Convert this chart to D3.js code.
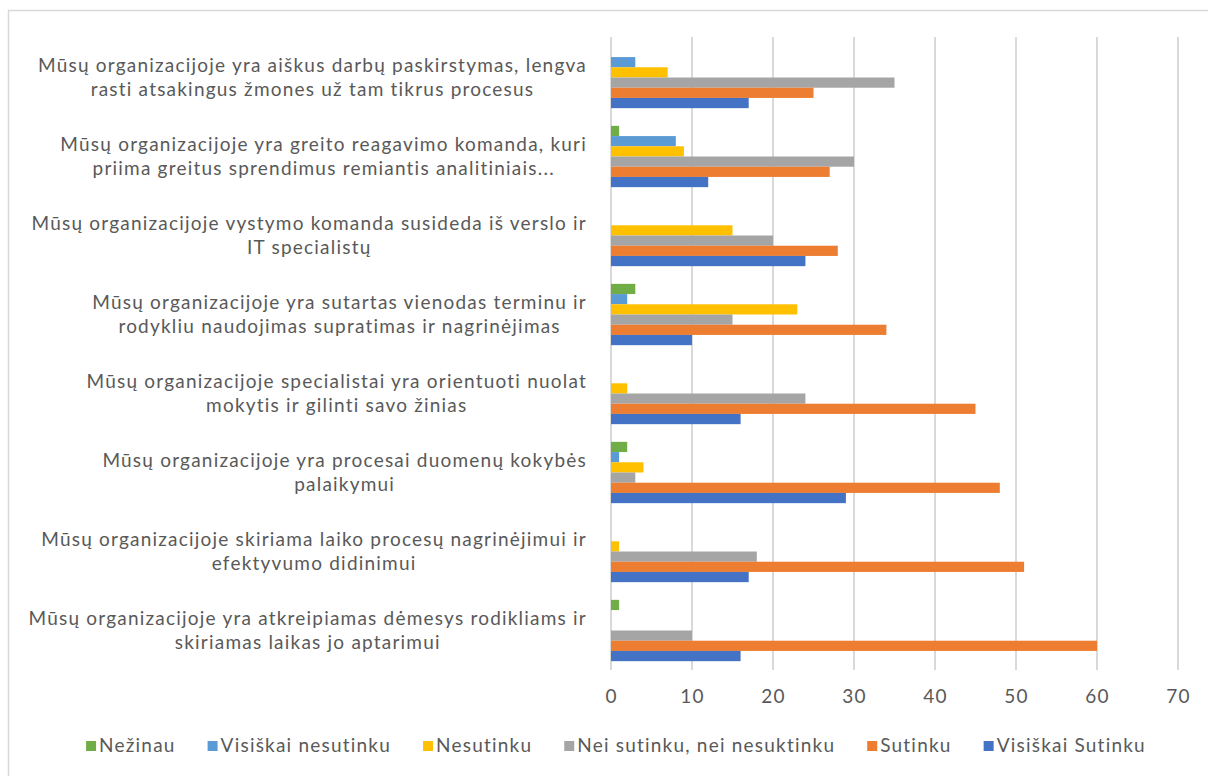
<!DOCTYPE html>
<html>
<head>
<meta charset="utf-8">
<script src="https://cdn.jsdelivr.net/npm/d3@7"></script>
<style>
  html, body { margin: 0; padding: 0; background: #fff; }
  svg { display: block; }
  text { font-family: Lato, "Open Sans", sans-serif; fill: #595959; }
</style>
</head>
<body>
<svg id="chart" width="1208" height="776"></svg>
<script>
const categories = [
  ["Mūsų organizacijoje yra aiškus darbų paskirstymas, lengva", "rasti atsakingus žmones už tam tikrus procesus"],
  ["Mūsų organizacijoje yra greito reagavimo komanda, kuri", "priima greitus sprendimus remiantis analitiniais..."],
  ["Mūsų organizacijoje vystymo komanda susideda iš verslo ir", "IT specialistų"],
  ["Mūsų organizacijoje yra sutartas vienodas terminu ir", "rodykliu naudojimas supratimas ir nagrinėjimas"],
  ["Mūsų organizacijoje specialistai yra orientuoti nuolat", "mokytis ir gilinti savo žinias"],
  ["Mūsų organizacijoje yra procesai duomenų kokybės", "palaikymui"],
  ["Mūsų organizacijoje skiriama laiko procesų nagrinėjimui ir", "efektyvumo didinimui"],
  ["Mūsų organizacijoje yra atkreipiamas dėmesys rodikliams ir", "skiriamas laikas jo aptarimui"]
];
const seriesNames = ["Nežinau", "Visiškai nesutinku", "Nesutinku", "Nei sutinku, nei nesuktinku", "Sutinku", "Visiškai Sutinku"];
const seriesColors = ["#70AD47", "#5B9BD5", "#FFC000", "#A5A5A5", "#ED7D31", "#4472C4"];
const nezinau           = [0, 1, 0, 3, 0, 2, 0, 1];
const visiskaiNesutinku = [3, 8, 0, 2, 0, 1, 0, 0];
const nesutinku         = [7, 9, 15, 23, 2, 4, 1, 0];
const neiNei            = [35, 30, 20, 15, 24, 3, 18, 10];
const sutinku           = [25, 27, 28, 34, 45, 48, 51, 60];
const visiskaiSutinku   = [17, 12, 24, 10, 16, 29, 17, 16];
const seriesValues = [nezinau, visiskaiNesutinku, nesutinku, neiNei, sutinku, visiskaiSutinku];
const xTicks = [0, 10, 20, 30, 40, 50, 60, 70];

const svg = d3.select("#chart");
const FS = 19;

// measure to set letter spacing so the first label line is ~549px wide
const probe = svg.append("text").attr("font-size", FS).text(categories[0][0]);
const pw = probe.node().getComputedTextLength();
const LS = Math.max(0, (549 - pw) / categories[0][0].length);
probe.remove();

// outer border
svg.append("rect").attr("x", 8.5).attr("y", 10.5).attr("width", 1220).attr("height", 800)
  .attr("fill", "none").attr("stroke", "#d9d9d9").attr("stroke-width", 1.5);

const x = d3.scaleLinear().domain([0, 70]).range([611, 1178]);
const y = d3.scaleBand().domain(d3.range(categories.length)).range([38, 670])
  .paddingInner(0.224).paddingOuter(0.112);
const ySub = d3.scaleBand().domain(d3.range(seriesNames.length)).range([0, y.bandwidth()]);

// gridlines
svg.append("g").selectAll("line").data(xTicks).join("line")
  .attr("x1", d => x(d)).attr("x2", d => x(d))
  .attr("y1", 37).attr("y2", 670)
  .attr("stroke", "#d9d9d9").attr("stroke-width", 2);

// x axis tick labels
const xAxis = d3.axisBottom(x).tickValues(xTicks).tickSize(0).tickPadding(0);
const gx = svg.append("g").attr("transform", "translate(0,690)").call(xAxis);
gx.select(".domain").remove();
gx.selectAll("text").attr("font-size", FS).attr("font-family", "Lato, sans-serif")
  .attr("fill", "#595959").attr("dy", "0.7em").style("letter-spacing", LS + "px");

// bars
const groups = svg.append("g").selectAll("g").data(categories).join("g")
  .attr("transform", (d, i) => `translate(0,${y(i)})`);
groups.selectAll("rect").data((d, i) => seriesValues.map((s, k) => ({k, v: s[i]})))
  .join("rect")
  .attr("x", x(0))
  .attr("y", d => ySub(d.k))
  .attr("width", d => x(d.v) - x(0))
  .attr("height", ySub.bandwidth())
  .attr("fill", d => seriesColors[d.k]);

// category labels
const rightEdge = 587;
categories.forEach((lines, i) => {
  const c = y(i) + y.bandwidth() / 2;
  const g = svg.append("g");
  const texts = lines.map((ln, j) => g.append("text")
    .attr("font-size", FS).attr("text-anchor", "middle")
    .style("letter-spacing", LS + "px")
    .attr("y", c - 6 + j * 24).text(ln));
  const maxW = d3.max(texts, t => t.node().getComputedTextLength());
  texts.forEach(t => t.attr("x", rightEdge - maxW / 2));
});

// legend
const legend = svg.append("g");
const items = seriesNames.map((name, k) => {
  const g = legend.append("g");
  g.append("rect").attr("x", 0).attr("y", -11).attr("width", 10).attr("height", 10).attr("fill", seriesColors[k]);
  const t = g.append("text").attr("x", 13).attr("y", 0).attr("font-size", FS)
    .style("letter-spacing", LS + "px").text(name);
  return {g, w: 13 + t.node().getComputedTextLength()};
});
const gap = 32;
const total = d3.sum(items, d => d.w) + gap * (items.length - 1);
let cx = 616 - total / 2;
items.forEach(it => { it.g.attr("transform", `translate(${cx},752)`); cx += it.w + gap; });
</script>
</body>
</html>
